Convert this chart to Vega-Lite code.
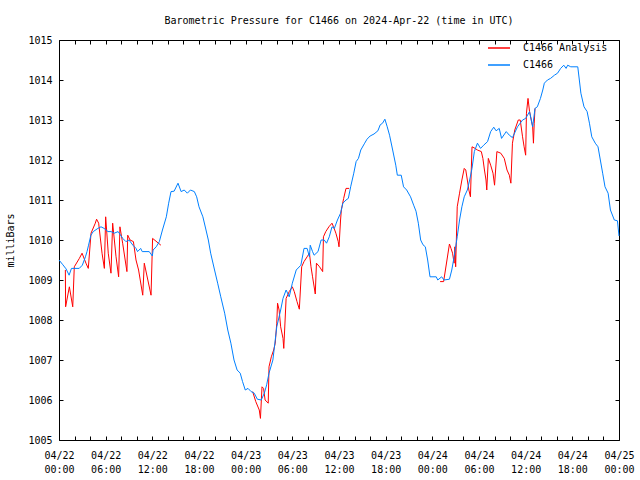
{
  "$schema": "https://vega.github.io/schema/vega-lite/v6.json",
  "width": 560,
  "height": 400,
  "autosize": {"type": "none"},
  "padding": {"left": 59, "top": 40, "right": 21, "bottom": 40},
  "background": "white",
  "title": {"text": "Barometric Pressure for C1466 on 2024-Apr-22 (time in UTC)", "font": "DejaVu Sans Mono", "fontSize": 10, "fontWeight": "normal", "color": "black", "anchor": "middle", "offset": 9},
  "datasets": {
    "obs": [
      {"t":"2024-04-22T00:00:00Z","p":1009.50},{"t":"2024-04-22T00:30:00Z","p":1009.38},{"t":"2024-04-22T00:54:00Z","p":1009.28},{"t":"2024-04-22T01:18:00Z","p":1009.12},{"t":"2024-04-22T01:36:00Z","p":1009.29},{"t":"2024-04-22T02:36:00Z","p":1009.29},{"t":"2024-04-22T03:00:00Z","p":1009.37},{"t":"2024-04-22T03:24:00Z","p":1009.58},{"t":"2024-04-22T03:36:00Z","p":1009.71},{"t":"2024-04-22T03:48:00Z","p":1009.87},{"t":"2024-04-22T04:06:00Z","p":1010.12},{"t":"2024-04-22T04:24:00Z","p":1010.21},{"t":"2024-04-22T05:00:00Z","p":1010.29},{"t":"2024-04-22T05:24:00Z","p":1010.33},{"t":"2024-04-22T05:48:00Z","p":1010.29},{"t":"2024-04-22T06:18:00Z","p":1010.21},{"t":"2024-04-22T06:42:00Z","p":1010.21},{"t":"2024-04-22T07:06:00Z","p":1010.17},{"t":"2024-04-22T07:36:00Z","p":1010.21},{"t":"2024-04-22T08:12:00Z","p":1010.04},{"t":"2024-04-22T08:36:00Z","p":1009.96},{"t":"2024-04-22T09:00:00Z","p":1010.00},{"t":"2024-04-22T09:30:00Z","p":1009.87},{"t":"2024-04-22T09:54:00Z","p":1009.79},{"t":"2024-04-22T10:06:00Z","p":1009.71},{"t":"2024-04-22T10:30:00Z","p":1009.79},{"t":"2024-04-22T10:42:00Z","p":1009.71},{"t":"2024-04-22T11:36:00Z","p":1009.71},{"t":"2024-04-22T12:00:00Z","p":1009.60},{"t":"2024-04-22T12:06:00Z","p":1009.75},{"t":"2024-04-22T12:30:00Z","p":1009.83},{"t":"2024-04-22T12:54:00Z","p":1009.96},{"t":"2024-04-22T13:18:00Z","p":1010.25},{"t":"2024-04-22T13:48:00Z","p":1010.58},{"t":"2024-04-22T14:06:00Z","p":1010.92},{"t":"2024-04-22T14:24:00Z","p":1011.21},{"t":"2024-04-22T14:48:00Z","p":1011.22},{"t":"2024-04-22T15:18:00Z","p":1011.42},{"t":"2024-04-22T15:42:00Z","p":1011.21},{"t":"2024-04-22T16:06:00Z","p":1011.25},{"t":"2024-04-22T16:30:00Z","p":1011.17},{"t":"2024-04-22T16:54:00Z","p":1011.25},{"t":"2024-04-22T17:24:00Z","p":1011.21},{"t":"2024-04-22T17:42:00Z","p":1011.08},{"t":"2024-04-22T18:00:00Z","p":1010.83},{"t":"2024-04-22T18:30:00Z","p":1010.58},{"t":"2024-04-22T18:54:00Z","p":1010.25},{"t":"2024-04-22T19:12:00Z","p":1010.00},{"t":"2024-04-22T19:30:00Z","p":1009.67},{"t":"2024-04-22T20:00:00Z","p":1009.25},{"t":"2024-04-22T20:24:00Z","p":1008.92},{"t":"2024-04-22T20:48:00Z","p":1008.58},{"t":"2024-04-22T21:18:00Z","p":1008.17},{"t":"2024-04-22T21:42:00Z","p":1007.75},{"t":"2024-04-22T22:06:00Z","p":1007.42},{"t":"2024-04-22T22:30:00Z","p":1007.00},{"t":"2024-04-22T22:54:00Z","p":1006.75},{"t":"2024-04-22T23:18:00Z","p":1006.67},{"t":"2024-04-22T23:36:00Z","p":1006.46},{"t":"2024-04-22T23:57:00Z","p":1006.25},{"t":"2024-04-23T00:18:00Z","p":1006.29},{"t":"2024-04-23T00:42:00Z","p":1006.21},{"t":"2024-04-23T01:06:00Z","p":1006.17},{"t":"2024-04-23T01:30:00Z","p":1006.02},{"t":"2024-04-23T02:00:00Z","p":1006.00},{"t":"2024-04-23T02:24:00Z","p":1006.17},{"t":"2024-04-23T02:42:00Z","p":1006.38},{"t":"2024-04-23T03:00:00Z","p":1006.67},{"t":"2024-04-23T03:30:00Z","p":1007.00},{"t":"2024-04-23T03:42:00Z","p":1007.33},{"t":"2024-04-23T04:00:00Z","p":1007.83},{"t":"2024-04-23T04:30:00Z","p":1008.25},{"t":"2024-04-23T04:48:00Z","p":1008.54},{"t":"2024-04-23T05:12:00Z","p":1008.75},{"t":"2024-04-23T05:36:00Z","p":1008.58},{"t":"2024-04-23T06:00:00Z","p":1008.92},{"t":"2024-04-23T06:30:00Z","p":1009.25},{"t":"2024-04-23T07:06:00Z","p":1009.37},{"t":"2024-04-23T07:30:00Z","p":1009.79},{"t":"2024-04-23T07:54:00Z","p":1009.79},{"t":"2024-04-23T08:12:00Z","p":1009.58},{"t":"2024-04-23T08:18:00Z","p":1009.87},{"t":"2024-04-23T08:36:00Z","p":1009.71},{"t":"2024-04-23T08:48:00Z","p":1009.62},{"t":"2024-04-23T09:18:00Z","p":1009.71},{"t":"2024-04-23T09:42:00Z","p":1010.00},{"t":"2024-04-23T10:06:00Z","p":1010.00},{"t":"2024-04-23T10:24:00Z","p":1009.92},{"t":"2024-04-23T10:45:00Z","p":1010.08},{"t":"2024-04-23T11:06:00Z","p":1010.33},{"t":"2024-04-23T11:24:00Z","p":1010.29},{"t":"2024-04-23T11:48:00Z","p":1010.50},{"t":"2024-04-23T12:12:00Z","p":1010.67},{"t":"2024-04-23T12:30:00Z","p":1010.92},{"t":"2024-04-23T12:54:00Z","p":1011.00},{"t":"2024-04-23T13:12:00Z","p":1011.04},{"t":"2024-04-23T13:30:00Z","p":1011.33},{"t":"2024-04-23T13:54:00Z","p":1011.67},{"t":"2024-04-23T14:12:00Z","p":1011.96},{"t":"2024-04-23T14:30:00Z","p":1012.04},{"t":"2024-04-23T14:48:00Z","p":1012.25},{"t":"2024-04-23T15:18:00Z","p":1012.42},{"t":"2024-04-23T15:36:00Z","p":1012.52},{"t":"2024-04-23T16:00:00Z","p":1012.60},{"t":"2024-04-23T16:30:00Z","p":1012.65},{"t":"2024-04-23T17:00:00Z","p":1012.73},{"t":"2024-04-23T17:18:00Z","p":1012.88},{"t":"2024-04-23T17:36:00Z","p":1012.92},{"t":"2024-04-23T17:54:00Z","p":1013.02},{"t":"2024-04-23T18:12:00Z","p":1012.83},{"t":"2024-04-23T18:30:00Z","p":1012.62},{"t":"2024-04-23T18:54:00Z","p":1012.25},{"t":"2024-04-23T19:18:00Z","p":1011.87},{"t":"2024-04-23T19:30:00Z","p":1011.62},{"t":"2024-04-23T20:00:00Z","p":1011.62},{"t":"2024-04-23T20:18:00Z","p":1011.33},{"t":"2024-04-23T20:42:00Z","p":1011.25},{"t":"2024-04-23T21:12:00Z","p":1011.08},{"t":"2024-04-23T21:36:00Z","p":1010.87},{"t":"2024-04-23T21:54:00Z","p":1010.72},{"t":"2024-04-23T22:12:00Z","p":1010.42},{"t":"2024-04-23T22:30:00Z","p":1010.00},{"t":"2024-04-23T22:48:00Z","p":1009.88},{"t":"2024-04-23T23:06:00Z","p":1009.83},{"t":"2024-04-23T23:24:00Z","p":1009.50},{"t":"2024-04-23T23:42:00Z","p":1009.08},{"t":"2024-04-24T00:30:00Z","p":1009.08},{"t":"2024-04-24T00:42:00Z","p":1009.00},{"t":"2024-04-24T01:12:00Z","p":1009.08},{"t":"2024-04-24T01:30:00Z","p":1009.00},{"t":"2024-04-24T02:12:00Z","p":1009.02},{"t":"2024-04-24T02:30:00Z","p":1009.25},{"t":"2024-04-24T02:48:00Z","p":1009.58},{"t":"2024-04-24T03:12:00Z","p":1010.08},{"t":"2024-04-24T03:30:00Z","p":1010.50},{"t":"2024-04-24T03:48:00Z","p":1010.83},{"t":"2024-04-24T04:06:00Z","p":1011.08},{"t":"2024-04-24T04:30:00Z","p":1011.25},{"t":"2024-04-24T04:48:00Z","p":1011.50},{"t":"2024-04-24T05:06:00Z","p":1011.79},{"t":"2024-04-24T05:24:00Z","p":1012.21},{"t":"2024-04-24T05:48:00Z","p":1012.42},{"t":"2024-04-24T06:12:00Z","p":1012.29},{"t":"2024-04-24T06:36:00Z","p":1012.37},{"t":"2024-04-24T07:06:00Z","p":1012.46},{"t":"2024-04-24T07:30:00Z","p":1012.71},{"t":"2024-04-24T07:54:00Z","p":1012.82},{"t":"2024-04-24T08:12:00Z","p":1012.73},{"t":"2024-04-24T08:36:00Z","p":1012.79},{"t":"2024-04-24T08:54:00Z","p":1012.54},{"t":"2024-04-24T09:30:00Z","p":1012.71},{"t":"2024-04-24T09:54:00Z","p":1012.62},{"t":"2024-04-24T10:18:00Z","p":1012.56},{"t":"2024-04-24T10:57:00Z","p":1012.83},{"t":"2024-04-24T11:36:00Z","p":1013.00},{"t":"2024-04-24T12:00:00Z","p":1013.04},{"t":"2024-04-24T12:30:00Z","p":1013.21},{"t":"2024-04-24T12:54:00Z","p":1012.83},{"t":"2024-04-24T13:12:00Z","p":1013.29},{"t":"2024-04-24T13:30:00Z","p":1013.33},{"t":"2024-04-24T13:54:00Z","p":1013.54},{"t":"2024-04-24T14:12:00Z","p":1013.75},{"t":"2024-04-24T14:24:00Z","p":1013.92},{"t":"2024-04-24T14:48:00Z","p":1014.00},{"t":"2024-04-24T15:12:00Z","p":1014.04},{"t":"2024-04-24T15:42:00Z","p":1014.12},{"t":"2024-04-24T16:06:00Z","p":1014.17},{"t":"2024-04-24T16:30:00Z","p":1014.29},{"t":"2024-04-24T16:54:00Z","p":1014.37},{"t":"2024-04-24T17:12:00Z","p":1014.29},{"t":"2024-04-24T17:24:00Z","p":1014.37},{"t":"2024-04-24T17:48:00Z","p":1014.33},{"t":"2024-04-24T18:42:00Z","p":1014.33},{"t":"2024-04-24T18:54:00Z","p":1014.00},{"t":"2024-04-24T19:06:00Z","p":1013.67},{"t":"2024-04-24T19:30:00Z","p":1013.33},{"t":"2024-04-24T19:54:00Z","p":1013.21},{"t":"2024-04-24T20:12:00Z","p":1012.92},{"t":"2024-04-24T20:30:00Z","p":1012.58},{"t":"2024-04-24T20:57:00Z","p":1012.42},{"t":"2024-04-24T21:18:00Z","p":1012.33},{"t":"2024-04-24T21:36:00Z","p":1012.00},{"t":"2024-04-24T21:54:00Z","p":1011.67},{"t":"2024-04-24T22:12:00Z","p":1011.33},{"t":"2024-04-24T22:36:00Z","p":1011.17},{"t":"2024-04-24T22:54:00Z","p":1010.75},{"t":"2024-04-24T23:24:00Z","p":1010.50},{"t":"2024-04-24T23:48:00Z","p":1010.48},{"t":"2024-04-25T00:00:00Z","p":1010.10}
    ],
    "ana": [
      {"g":"A","t":"2024-04-22T00:49:00Z","p":1009.25},{"g":"A","t":"2024-04-22T00:51:00Z","p":1008.33},{"g":"A","t":"2024-04-22T01:20:00Z","p":1008.83},{"g":"A","t":"2024-04-22T01:46:00Z","p":1008.33},{"g":"A","t":"2024-04-22T01:58:00Z","p":1009.33},{"g":"A","t":"2024-04-22T02:37:00Z","p":1009.54},{"g":"A","t":"2024-04-22T02:58:00Z","p":1009.67},{"g":"A","t":"2024-04-22T03:28:00Z","p":1009.42},{"g":"A","t":"2024-04-22T03:46:00Z","p":1009.29},{"g":"A","t":"2024-04-22T04:07:00Z","p":1010.17},{"g":"A","t":"2024-04-22T04:40:00Z","p":1010.42},{"g":"A","t":"2024-04-22T04:50:00Z","p":1010.52},{"g":"A","t":"2024-04-22T05:06:00Z","p":1010.42},{"g":"A","t":"2024-04-22T05:32:00Z","p":1009.67},{"g":"A","t":"2024-04-22T05:50:00Z","p":1009.29},{"g":"A","t":"2024-04-22T06:00:00Z","p":1010.58},{"g":"A","t":"2024-04-22T06:20:00Z","p":1009.67},{"g":"A","t":"2024-04-22T06:41:00Z","p":1009.17},{"g":"A","t":"2024-04-22T06:54:00Z","p":1010.42},{"g":"A","t":"2024-04-22T07:20:00Z","p":1009.58},{"g":"A","t":"2024-04-22T07:40:00Z","p":1009.08},{"g":"A","t":"2024-04-22T07:50:00Z","p":1010.33},{"g":"A","t":"2024-04-22T08:11:00Z","p":1009.92},{"g":"A","t":"2024-04-22T08:44:00Z","p":1009.21},{"g":"A","t":"2024-04-22T08:50:00Z","p":1010.12},{"g":"A","t":"2024-04-22T09:08:00Z","p":1010.00},{"g":"A","t":"2024-04-22T09:34:00Z","p":1009.96},{"g":"A","t":"2024-04-22T09:54:00Z","p":1009.50},{"g":"A","t":"2024-04-22T10:14:00Z","p":1009.25},{"g":"A","t":"2024-04-22T10:46:00Z","p":1008.62},{"g":"A","t":"2024-04-22T10:58:00Z","p":1009.42},{"g":"A","t":"2024-04-22T11:50:00Z","p":1008.62},{"g":"A","t":"2024-04-22T12:02:00Z","p":1010.04},{"g":"A","t":"2024-04-22T13:06:00Z","p":1009.87},
      {"g":"B","t":"2024-04-23T00:54:00Z","p":1006.21},{"g":"B","t":"2024-04-23T01:18:00Z","p":1005.96},{"g":"B","t":"2024-04-23T01:45:00Z","p":1005.75},{"g":"B","t":"2024-04-23T01:54:00Z","p":1005.54},{"g":"B","t":"2024-04-23T02:06:00Z","p":1006.33},{"g":"B","t":"2024-04-23T02:18:00Z","p":1006.29},{"g":"B","t":"2024-04-23T02:30:00Z","p":1006.00},{"g":"B","t":"2024-04-23T02:54:00Z","p":1005.92},{"g":"B","t":"2024-04-23T03:00:00Z","p":1006.83},{"g":"B","t":"2024-04-23T03:18:00Z","p":1007.08},{"g":"B","t":"2024-04-23T03:36:00Z","p":1007.25},{"g":"B","t":"2024-04-23T03:48:00Z","p":1007.42},{"g":"B","t":"2024-04-23T04:00:00Z","p":1007.92},{"g":"B","t":"2024-04-23T04:06:00Z","p":1008.42},{"g":"B","t":"2024-04-23T04:18:00Z","p":1008.25},{"g":"B","t":"2024-04-23T04:30:00Z","p":1007.83},{"g":"B","t":"2024-04-23T04:48:00Z","p":1007.54},{"g":"B","t":"2024-04-23T04:54:00Z","p":1007.29},{"g":"B","t":"2024-04-23T05:12:00Z","p":1008.54},{"g":"B","t":"2024-04-23T05:36:00Z","p":1008.71},{"g":"B","t":"2024-04-23T06:00:00Z","p":1008.83},{"g":"B","t":"2024-04-23T06:15:00Z","p":1008.71},{"g":"B","t":"2024-04-23T06:36:00Z","p":1008.46},{"g":"B","t":"2024-04-23T06:54:00Z","p":1008.27},{"g":"B","t":"2024-04-23T07:12:00Z","p":1009.33},{"g":"B","t":"2024-04-23T07:30:00Z","p":1009.46},{"g":"B","t":"2024-04-23T07:54:00Z","p":1009.58},{"g":"B","t":"2024-04-23T08:12:00Z","p":1009.67},{"g":"B","t":"2024-04-23T08:24:00Z","p":1009.33},{"g":"B","t":"2024-04-23T08:36:00Z","p":1009.08},{"g":"B","t":"2024-04-23T08:57:00Z","p":1008.65},{"g":"B","t":"2024-04-23T09:06:00Z","p":1009.42},{"g":"B","t":"2024-04-23T09:30:00Z","p":1009.33},{"g":"B","t":"2024-04-23T09:54:00Z","p":1009.21},{"g":"B","t":"2024-04-23T10:00:00Z","p":1010.08},{"g":"B","t":"2024-04-23T10:18:00Z","p":1010.21},{"g":"B","t":"2024-04-23T10:42:00Z","p":1010.33},{"g":"B","t":"2024-04-23T11:06:00Z","p":1010.42},{"g":"B","t":"2024-04-23T11:18:00Z","p":1010.33},{"g":"B","t":"2024-04-23T11:36:00Z","p":1010.17},{"g":"B","t":"2024-04-23T11:54:00Z","p":1009.96},{"g":"B","t":"2024-04-23T12:00:00Z","p":1009.83},{"g":"B","t":"2024-04-23T12:12:00Z","p":1010.50},{"g":"B","t":"2024-04-23T12:18:00Z","p":1010.75},{"g":"B","t":"2024-04-23T12:36:00Z","p":1011.04},{"g":"B","t":"2024-04-23T12:54:00Z","p":1011.29},{"g":"B","t":"2024-04-23T13:18:00Z","p":1011.29},
      {"g":"C","t":"2024-04-24T01:00:00Z","p":1008.96},{"g":"C","t":"2024-04-24T01:27:00Z","p":1008.96},{"g":"C","t":"2024-04-24T02:12:00Z","p":1009.90},{"g":"C","t":"2024-04-24T02:24:00Z","p":1009.79},{"g":"C","t":"2024-04-24T02:36:00Z","p":1009.67},{"g":"C","t":"2024-04-24T02:48:00Z","p":1009.42},{"g":"C","t":"2024-04-24T02:54:00Z","p":1009.83},{"g":"C","t":"2024-04-24T03:00:00Z","p":1009.33},{"g":"C","t":"2024-04-24T03:12:00Z","p":1010.83},{"g":"C","t":"2024-04-24T03:30:00Z","p":1011.17},{"g":"C","t":"2024-04-24T03:48:00Z","p":1011.50},{"g":"C","t":"2024-04-24T04:06:00Z","p":1011.79},{"g":"C","t":"2024-04-24T04:18:00Z","p":1011.75},{"g":"C","t":"2024-04-24T04:30:00Z","p":1011.50},{"g":"C","t":"2024-04-24T04:42:00Z","p":1011.25},{"g":"C","t":"2024-04-24T04:54:00Z","p":1011.08},{"g":"C","t":"2024-04-24T05:06:00Z","p":1012.33},{"g":"C","t":"2024-04-24T05:30:00Z","p":1012.29},{"g":"C","t":"2024-04-24T05:48:00Z","p":1012.25},{"g":"C","t":"2024-04-24T06:18:00Z","p":1012.21},{"g":"C","t":"2024-04-24T06:30:00Z","p":1012.04},{"g":"C","t":"2024-04-24T06:42:00Z","p":1011.75},{"g":"C","t":"2024-04-24T06:54:00Z","p":1011.50},{"g":"C","t":"2024-04-24T07:00:00Z","p":1011.25},{"g":"C","t":"2024-04-24T07:12:00Z","p":1012.04},{"g":"C","t":"2024-04-24T07:30:00Z","p":1011.87},{"g":"C","t":"2024-04-24T07:48:00Z","p":1011.67},{"g":"C","t":"2024-04-24T08:00:00Z","p":1011.37},{"g":"C","t":"2024-04-24T08:18:00Z","p":1012.21},{"g":"C","t":"2024-04-24T08:48:00Z","p":1012.17},{"g":"C","t":"2024-04-24T09:15:00Z","p":1012.04},{"g":"C","t":"2024-04-24T09:36:00Z","p":1011.75},{"g":"C","t":"2024-04-24T09:54:00Z","p":1011.62},{"g":"C","t":"2024-04-24T10:06:00Z","p":1011.42},{"g":"C","t":"2024-04-24T10:18:00Z","p":1012.42},{"g":"C","t":"2024-04-24T10:36:00Z","p":1012.75},{"g":"C","t":"2024-04-24T11:03:00Z","p":1013.00},{"g":"C","t":"2024-04-24T11:18:00Z","p":1013.00},{"g":"C","t":"2024-04-24T11:36:00Z","p":1012.58},{"g":"C","t":"2024-04-24T11:48:00Z","p":1012.33},{"g":"C","t":"2024-04-24T12:00:00Z","p":1012.12},{"g":"C","t":"2024-04-24T12:06:00Z","p":1013.17},{"g":"C","t":"2024-04-24T12:18:00Z","p":1013.54},{"g":"C","t":"2024-04-24T12:30:00Z","p":1013.21},{"g":"C","t":"2024-04-24T12:54:00Z","p":1012.83},{"g":"C","t":"2024-04-24T13:00:00Z","p":1012.42},{"g":"C","t":"2024-04-24T13:06:00Z","p":1012.92},{"g":"C","t":"2024-04-24T13:12:00Z","p":1013.29}
    ]
  },
  "layer": [
    {
      "data": {"name": "ana"},
      "transform": [{"calculate": "'C1466 Analysis'", "as": "s"}],
      "mark": {"type": "line", "strokeWidth": 1},
      "encoding": {
        "x": {"field": "t", "type": "temporal",
          "scale": {"type": "utc", "domain": [1713744000000, 1714003200000], "nice": false},
          "axis": {"orient": "bottom", "offset": -4, "tickSize": 4,
            "values": [1713744000000,1713751200000,1713758400000,1713765600000,1713772800000,1713780000000,1713787200000,1713794400000,1713801600000,1713808800000,1713816000000,1713823200000,1713830400000,1713837600000,1713844800000,1713852000000,1713859200000,1713866400000,1713873600000,1713880800000,1713888000000,1713895200000,1713902400000,1713909600000,1713916800000,1713924000000,1713931200000,1713938400000,1713945600000,1713952800000,1713960000000,1713967200000,1713974400000,1713981600000,1713988800000,1713996000000,1714003200000],
            "labelExpr": "utchours(datum.value) % 6 == 0 ? [utcFormat(datum.value, '%m/%d'), utcFormat(datum.value, '%H:%M')] : ''", "labelPadding": 10, "labelLineHeight": 14, "labelAngle": 0, "labelOverlap": false, "labelFlush": false, "labelBound": false, "title": null}},
        "y": {"field": "p", "type": "quantitative",
          "scale": {"domain": [1005, 1015], "nice": false, "zero": false},
          "axis": {"orient": "left", "offset": -4, "tickSize": 4, "values": [1005,1006,1007,1008,1009,1010,1011,1012,1013,1014,1015], "format": "d", "labelPadding": 7, "title": "milliBars", "titlePadding": 12}},
        "color": {"field": "s", "type": "nominal", "scale": {"domain": ["C1466 Analysis", "C1466"], "range": ["#ff0000", "#0080ff"]},
          "legend": {"orient": "none", "legendX": 428, "legendY": -4, "title": null, "symbolType": "stroke", "symbolSize": 484, "symbolStrokeWidth": 1.5, "labelFont": "DejaVu Sans Mono", "labelFontSize": 10, "labelColor": "black", "labelOffset": 12, "rowPadding": -5, "padding": 0}},
        "detail": {"field": "g", "type": "nominal"}
      }
    },
    {
      "data": {"name": "obs"},
      "transform": [{"calculate": "'C1466'", "as": "s"}],
      "mark": {"type": "line", "strokeWidth": 1},
      "encoding": {
        "x": {"field": "t", "type": "temporal",
          "axis": {"orient": "top", "offset": -4, "tickSize": 4,
            "values": [1713744000000,1713751200000,1713758400000,1713765600000,1713772800000,1713780000000,1713787200000,1713794400000,1713801600000,1713808800000,1713816000000,1713823200000,1713830400000,1713837600000,1713844800000,1713852000000,1713859200000,1713866400000,1713873600000,1713880800000,1713888000000,1713895200000,1713902400000,1713909600000,1713916800000,1713924000000,1713931200000,1713938400000,1713945600000,1713952800000,1713960000000,1713967200000,1713974400000,1713981600000,1713988800000,1713996000000,1714003200000],
            "labels": false, "title": null}},
        "y": {"field": "p", "type": "quantitative",
          "axis": {"orient": "right", "offset": -4, "tickSize": 4, "values": [1005,1006,1007,1008,1009,1010,1011,1012,1013,1014,1015], "labels": false, "title": null}},
        "color": {"field": "s", "type": "nominal"}
      }
    }
  ],
  "resolve": {"axis": {"x": "independent", "y": "independent"}},
  "config": {
    "view": {"stroke": "black", "strokeWidth": 1},
    "axis": {"domain": false, "grid": false, "tickColor": "black", "tickWidth": 1, "labelFont": "DejaVu Sans Mono", "labelFontSize": 10, "labelColor": "black", "titleFont": "DejaVu Sans Mono", "titleFontSize": 10, "titleFontWeight": "normal", "titleColor": "black"},
    "legend": {"labelFont": "DejaVu Sans Mono"}
  }
}
